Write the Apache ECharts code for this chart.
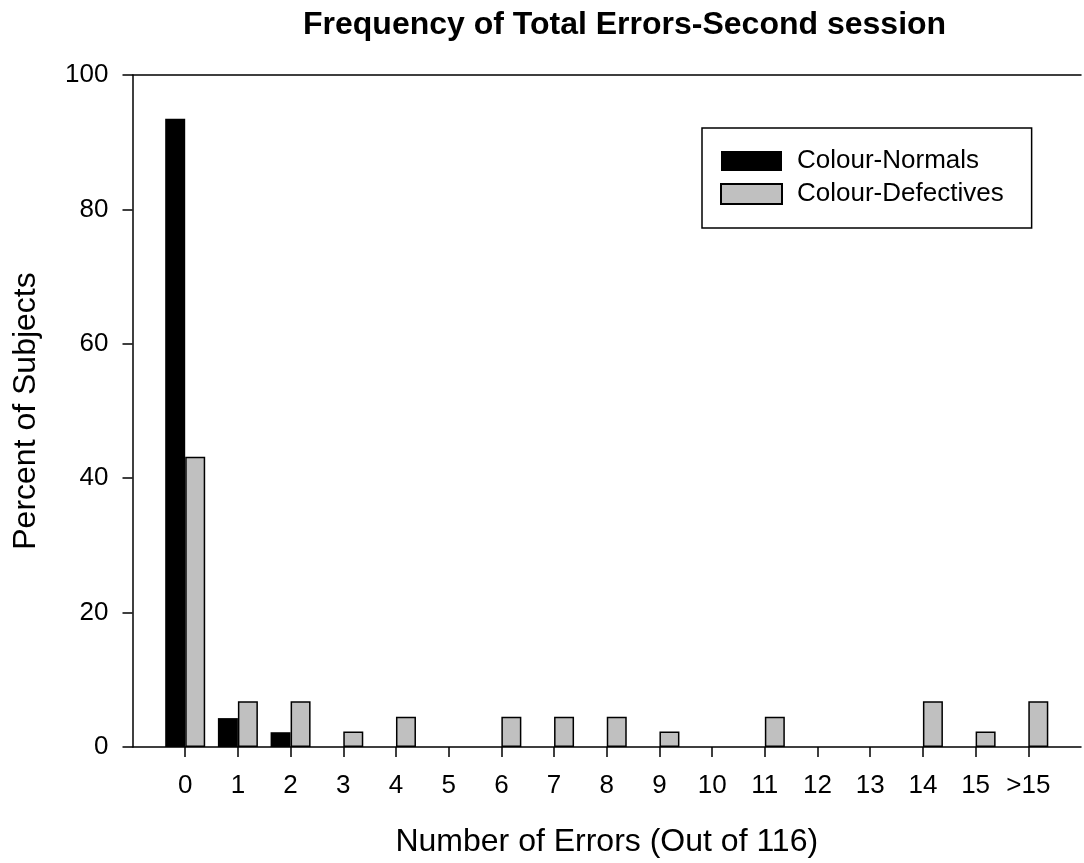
<!DOCTYPE html>
<html>
<head>
<meta charset="utf-8">
<title>Frequency of Total Errors-Second session</title>
<script src="https://cdn.jsdelivr.net/npm/echarts@6/dist/echarts.min.js"></script>
<style>
  html, body { margin: 0; padding: 0; background: #fff; }
  #chart { width: 1084px; height: 863px; }
</style>
</head>
<body>
<div id="chart"></div>
<script>
// Number of errors (out of 116) on the second session
const errorCategories = ['0', '1', '2', '3', '4', '5', '6', '7', '8', '9', '10', '11', '12', '13', '14', '15', '>15'];
// Percent of subjects in each error bin
const colourNormals = [93.5, 4.3, 2.2, 0, 0, 0, 0, 0, 0, 0, 0, 0, 0, 0, 0, 0, 0];
const colourDefectives = [43.2, 6.8, 6.8, 2.3, 4.5, 0, 4.5, 4.5, 4.5, 2.3, 0, 4.5, 0, 0, 6.8, 2.3, 6.8];
const yTicks = [0, 20, 40, 60, 80, 100];

const FONT = '"Liberation Sans", Arial, sans-serif';

// one empty slot at each end so the category positions run from the y axis outward
const axisCats = [''].concat(errorCategories, ['']);
// empty bins are left undrawn so no zero-height outline sits on the axis
const pad = arr => [null].concat(arr.map(v => (v === 0 ? '-' : v)), [null]);
const lastIdx = axisCats.length - 1;

const chart = echarts.init(document.getElementById('chart'), null, { renderer: 'canvas' });

chart.setOption({
  animation: false,
  backgroundColor: '#ffffff',
  textStyle: { fontFamily: FONT, color: '#000' },
  title: {
    text: 'Frequency of Total Errors-Second session',
    left: 298,
    top: 4,
    textStyle: { fontFamily: FONT, fontSize: 32, fontWeight: 'bold', color: '#000' }
  },
  legend: {
    left: 702,
    top: 128,
    orient: 'vertical',
    padding: [20, 28, 21, 18],
    itemGap: 7,
    itemWidth: 61,
    itemHeight: 20,
    borderColor: '#000',
    borderWidth: 1.5,
    borderRadius: 0,
    icon: 'rect',
    textStyle: { fontFamily: FONT, fontSize: 26, color: '#000', padding: [0, 0, 0, 10] },
    data: ['Colour-Normals', 'Colour-Defectives']
  },
  grid: { left: 132.5, right: -9.5, top: 75, bottom: 116, containLabel: false },
  xAxis: [
    {
      type: 'category',
      data: axisCats,
      boundaryGap: false,
      position: 'bottom',
      name: 'Number of Errors (Out of 116)',
      nameLocation: 'middle',
      nameGap: 79,
      nameTextStyle: { fontFamily: FONT, fontSize: 32, color: '#000' },
      axisLine: { show: true, lineStyle: { color: '#000', width: 1.5 } },
      axisTick: {
        show: true, length: 10, inside: false,
        interval: (idx) => idx > 0 && idx < lastIdx,
        lineStyle: { color: '#000', width: 1.5 }
      },
      axisLabel: { interval: 0, margin: 26, fontFamily: FONT, fontSize: 26, color: '#000' },
      splitLine: { show: false }
    },
    {
      type: 'category',
      data: axisCats,
      boundaryGap: false,
      position: 'top',
      axisLine: { show: true, lineStyle: { color: '#000', width: 1.5 } },
      axisTick: { show: false },
      axisLabel: { show: false },
      splitLine: { show: false }
    }
  ],
  yAxis: {
    type: 'value',
    min: yTicks[0],
    max: yTicks[yTicks.length - 1],
    interval: yTicks[1] - yTicks[0],
    name: 'Percent of Subjects',
    nameLocation: 'middle',
    nameGap: 90,
    nameTextStyle: { fontFamily: FONT, fontSize: 32, color: '#000' },
    axisLine: { show: true, lineStyle: { color: '#000', width: 1.5 } },
    axisTick: { show: true, length: 10, inside: false, lineStyle: { color: '#000', width: 1.5 } },
    axisLabel: { margin: 24, fontFamily: FONT, fontSize: 26, color: '#000' },
    splitLine: { show: false }
  },
  series: [
    {
      name: 'Colour-Normals',
      type: 'bar',
      xAxisIndex: 0,
      data: pad(colourNormals),
      barWidth: 20,
      barGap: '0%',
      itemStyle: { color: '#000000', borderColor: '#000000', borderWidth: 0 }
    },
    {
      name: 'Colour-Defectives',
      type: 'bar',
      xAxisIndex: 0,
      data: pad(colourDefectives),
      barWidth: 20,
      barGap: '0%',
      itemStyle: { color: '#c0c0c0', borderColor: '#000000', borderWidth: 1.5 }
    }
  ]
});
</script>
</body>
</html>
